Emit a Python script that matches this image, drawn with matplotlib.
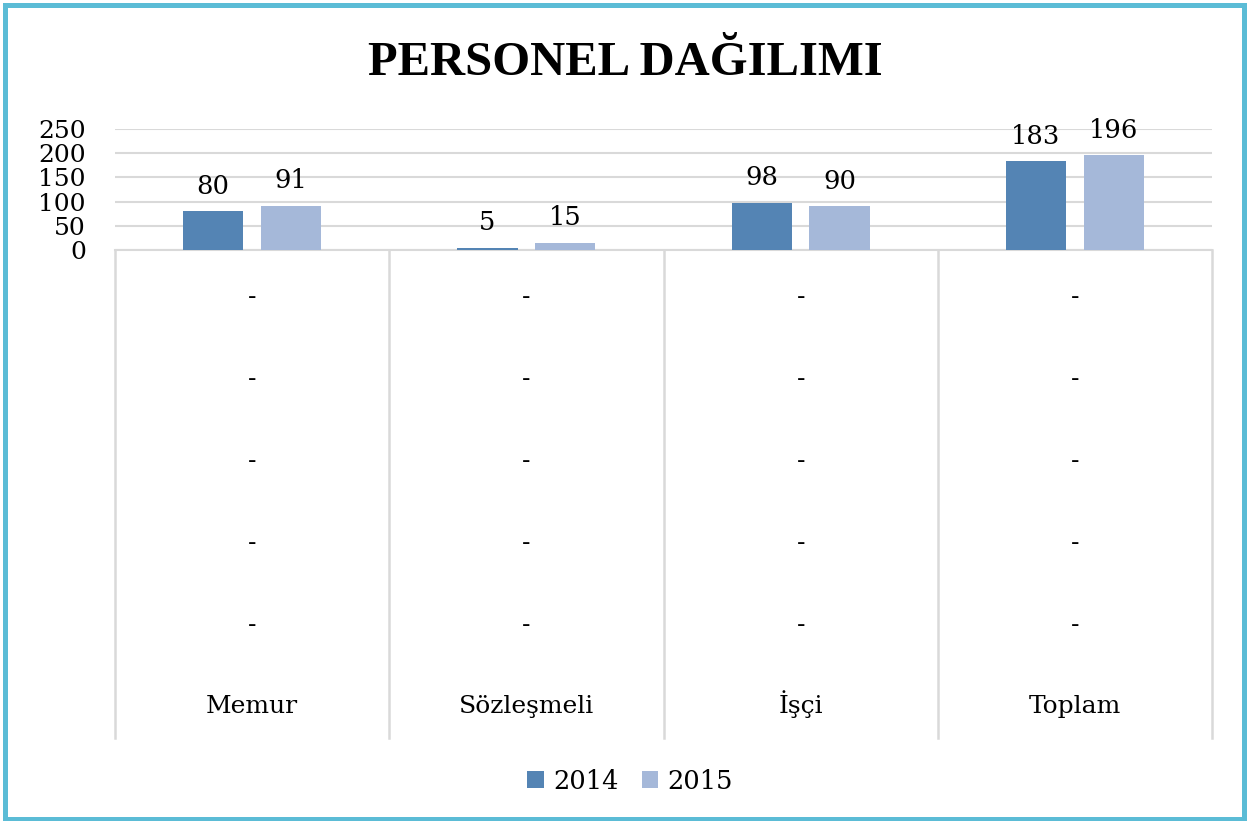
import numpy as np
import matplotlib.pyplot as plt
from matplotlib.patches import Rectangle

plt.rcParams['font.family'] = ['DejaVu Serif']

# Data
categories = ['Memur', 'Sözleşmeli', 'İşçi', 'Toplam']
years = ['2014', '2015']
values_2014 = [80, 5, 98, 183]
values_2015 = [91, 15, 90, 196]
sub_labels = ['-', '-', '-', '-', '-']
yticks = [0, 50, 100, 150, 200, 250]

colors = ['#5484B4', '#A5B8D9']
grid_color = '#D9D9D9'

W, H = 1247, 821
fig = plt.figure(figsize=(W / 100, H / 100), dpi=100)


def px(x0, y0, x1, y1):
    # pixel box -> figure fraction rect
    return [x0 / W, 1 - y1 / H, (x1 - x0) / W, (y1 - y0) / H]


# Bar chart area
ax = fig.add_axes(px(115, 129, 1212, 250))
x = np.arange(len(categories))
w = 0.22
off = 0.142
for i, (vals, yr) in enumerate(zip([values_2014, values_2015], years)):
    bars = ax.bar(x + (i * 2 - 1) * off, vals, w, color=colors[i], label=yr, zorder=3)
    for b, v in zip(bars, vals):
        ax.annotate(str(v), (b.get_x() + b.get_width() / 2, v),
                    xytext=(0, 9), textcoords='offset points',
                    ha='center', va='bottom', fontsize=18.5)

ax.set_xlim(-0.5, len(categories) - 0.5)
ax.set_ylim(0, 250)
ax.set_yticks(yticks)
ax.set_yticklabels([str(t) for t in yticks], fontsize=18)
ax.tick_params(axis='y', length=0, pad=21)
ax.set_xticks([])
ax.yaxis.grid(True, color=grid_color, linewidth=1.5, zorder=0)
ax.set_axisbelow(True)
for s in ['top', 'right', 'left']:
    ax.spines[s].set_visible(False)
ax.spines['bottom'].set_color(grid_color)
ax.spines['bottom'].set_linewidth(1.5)
ax.patch.set_alpha(0)

# Multi-level category axis below
ax2 = fig.add_axes(px(115, 250, 1212, 738))
ax2.set_xlim(-0.5, len(categories) - 0.5)
ax2.set_ylim(738, 250)
ax2.axis('off')
for b in np.arange(len(categories) + 1) - 0.5:
    ax2.plot([b, b], [250, 738], color=grid_color, linewidth=1.8, clip_on=False)
row_y = [298, 380, 462, 544, 626]
for i, cat in enumerate(categories):
    for yy, lab in zip(row_y, sub_labels):
        ax2.text(i, yy, lab, ha='center', va='center', fontsize=18)
    ax2.text(i, 713, cat, ha='center', va='baseline', fontsize=18)

# Title
fig.text(625 / W, 1 - 63 / H, 'PERSONEL DAĞILIMI', ha='center', va='center',
         fontsize=35, fontweight='bold', family='Liberation Serif')

# Legend
handles, labels = ax.get_legend_handles_labels()
fig.legend(handles, labels, loc='center', bbox_to_anchor=(630 / W, 1 - 781 / H),
           ncol=2, frameon=False, fontsize=18.5, handlelength=0.65, handleheight=0.65,
           handletextpad=0.35, columnspacing=0.9)

# Outer border
fig.patches.append(Rectangle((5 / W, 2 / H), 1239 / W, 814 / H, transform=fig.transFigure,
                             fill=False, edgecolor='#5BBCD6', linewidth=3.6))

fig.savefig('out.png', dpi=100, facecolor='white')
